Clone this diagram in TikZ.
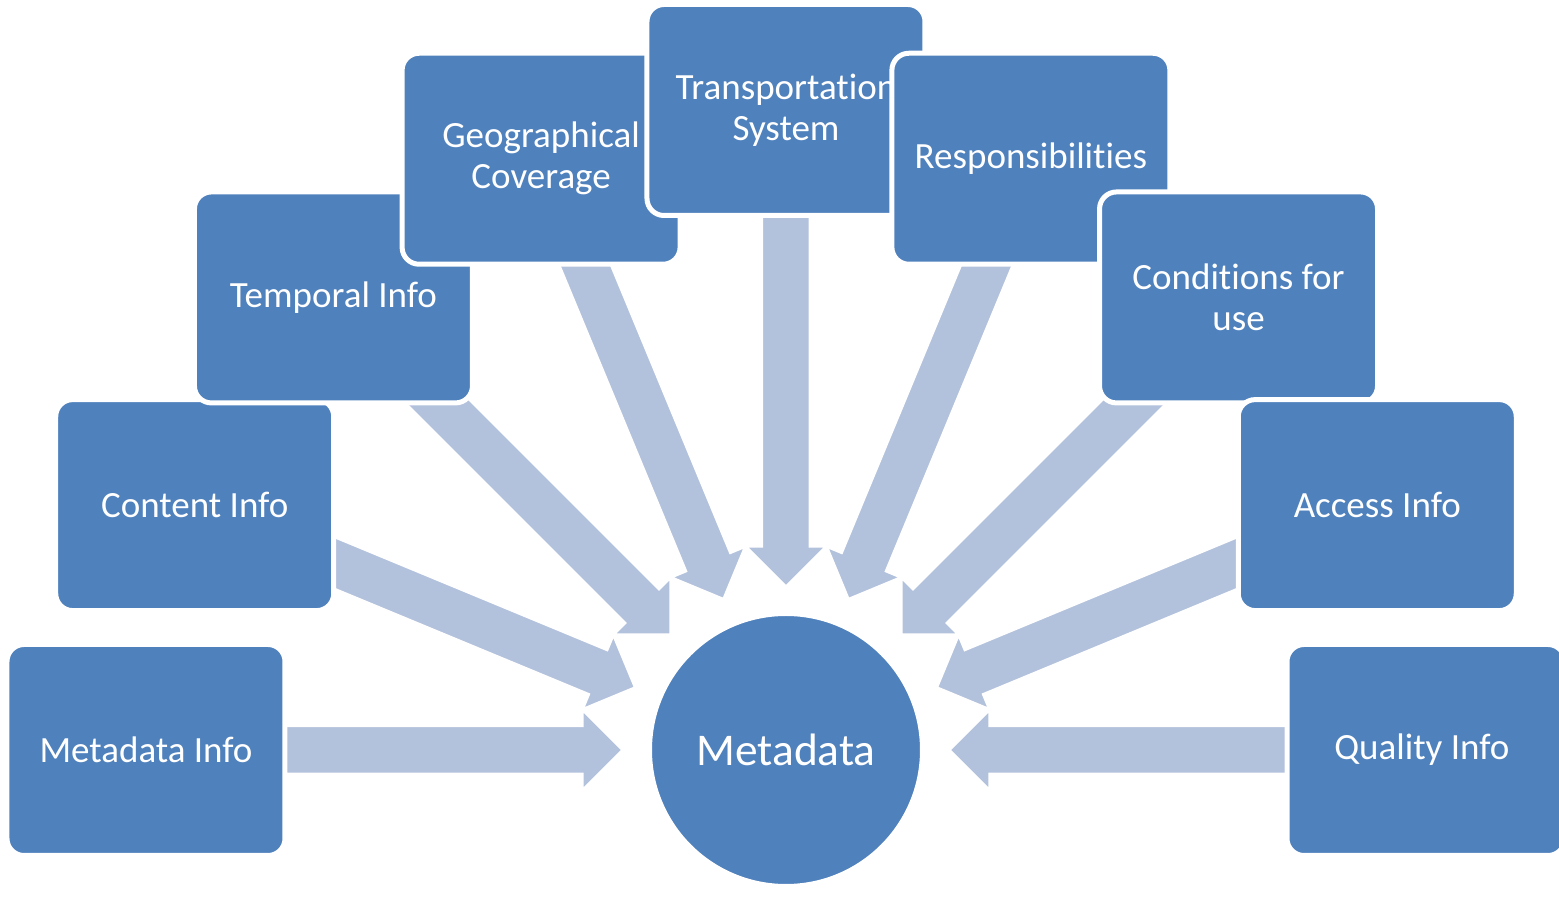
\documentclass[tikz,border=0pt]{standalone}
\usepackage{fontspec}
\setmainfont{Carlito}[Ligatures=NoCommon]
\usetikzlibrary{calc,backgrounds}

\definecolor{boxblue}{HTML}{4F81BD}
\definecolor{feedblue}{HTML}{B2C1DC}

\def\ringradius{640}   % hub centre to box centres
\def\tipgap{82pt}      % hub centre to arrow tip
\def\headbase{101.5pt} % hub centre to base of arrow head
\def\shaft{11.75pt}    % half width of arrow shaft
\def\head{19.5pt}      % half width of arrow head

\tikzset{
  topic/.style={draw=white, line width=2.5pt, fill=boxblue, rounded corners=8.5pt,
    minimum width=139pt, minimum height=105.5pt, align=center, text=white,
    font=\fontsize{18.5}{20.5}\selectfont},
  hubnode/.style={circle, draw=white, line width=2.5pt, fill=boxblue,
    minimum size=136.5pt, text=white, font=\fontsize{22.7}{26}\selectfont},
  feed/.style={fill=feedblue, draw=white, line width=0.75pt, line join=miter}
}

\begin{document}
\begin{tikzpicture}[x=0.5pt, y=0.5pt]
  \useasboundingbox (-786,-170) rectangle (773,750);
  \clip (-786,-170) rectangle (773,750);
  \node[hubnode] (hub) at (0,0) {Metadata};
  % Boxes round the hub, drawn clockwise from the left
  \foreach \name/\ang/\txt in {
      meta/180/Metadata Info,
      content/157.5/Content Info,
      temporal/135/Temporal Info,
      geo/112.5/{Geographical\\Coverage},
      transport/90/{Transportation\\System},
      resp/67.5/Responsibilities,
      cond/45/{Conditions for\\use},
      access/22.5/Access Info,
      quality/0/Quality Info
    } {
      \node[topic] (\name) at (\ang:\ringradius) {\txt};
    };
  % Block arrows from each box towards the hub, tucked under the boxes
  \begin{scope}[on background layer]
    \foreach \name in {meta, content, temporal, geo, transport, resp, cond, access, quality} {
        \coordinate (s) at (\name.center);
        \coordinate (b) at ($(hub.center)!\headbase!(\name.center)$);
        \coordinate (t) at ($(hub.center)!\tipgap!(\name.center)$);
        \filldraw[feed] ($(s)!\shaft!90:(t)$) -- ($(b)!\shaft!90:(t)$)
          -- ($(b)!\head!90:(t)$) -- (t) -- ($(b)!\head!-90:(t)$)
          -- ($(b)!\shaft!-90:(t)$) -- ($(s)!\shaft!-90:(t)$) -- cycle;
      };
  \end{scope}
\end{tikzpicture}
\end{document}
